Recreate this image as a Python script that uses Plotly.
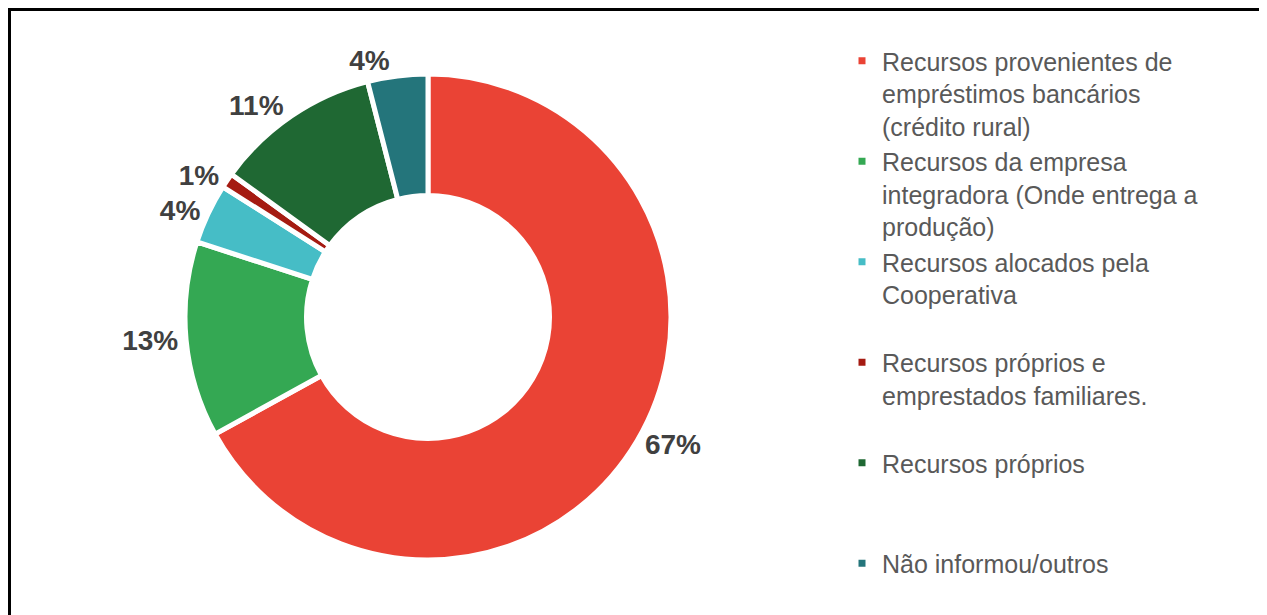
import plotly.graph_objects as go

labels = [
    "Recursos provenientes de<br>empréstimos bancários<br>(crédito rural)",
    "Recursos da empresa<br>integradora (Onde entrega a<br>produção)",
    "Recursos alocados pela<br>Cooperativa<br> ",
    "Recursos próprios e<br>emprestados familiares.<br> ",
    "Recursos próprios<br> <br> ",
    "Não informou/outros",
]
values = [67, 13, 4, 1, 11, 4]
colors = ["#ea4335", "#34a853", "#46bdc6", "#a51b12", "#1f6833", "#24757b"]

W, H = 1267, 615
OFF = 8  # page body margin


def px(p):
    return (p - OFF) / W


def py(p):
    return 1 - (p - OFF) / H


cx, cy, r = 428, 317, 243

fig = go.Figure()

fig.add_trace(
    go.Pie(labels=labels,
           values=values,
           hole=0.5,
           sort=False,
           direction="clockwise",
           rotation=0,
           marker=dict(colors=colors, line=dict(color="white", width=5)),
           texttemplate="<b>%{percent:.0%}</b>",
           textposition="outside",
           outsidetextfont=dict(family="Liberation Sans, Arial", size=28, color="#404040"),
           domain=dict(x=[px(cx - r), px(cx + r)],
                       y=[py(cy + r), py(cy - r)]),
           hoverinfo="label+percent"
    )
)

fig.add_shape(type="rect", xref="paper", yref="paper",
              x0=px(9.5), x1=px(1265.5), y0=-0.02, y1=py(9.5),
              line=dict(color="black", width=3))

fig.update_layout(
    width=W, height=H,
    margin=dict(l=0, r=0, t=0, b=0),
    paper_bgcolor="white",
    plot_bgcolor="white",
    showlegend=True,
    legend=dict(x=px(842), y=py(38), xanchor="left", yanchor="top",
                valign="top", traceorder="normal",
                bgcolor="rgba(0,0,0,0)",
                font=dict(family="Liberation Sans, Arial", size=25, color="#595959")),
)

fig.write_html("out.html")
